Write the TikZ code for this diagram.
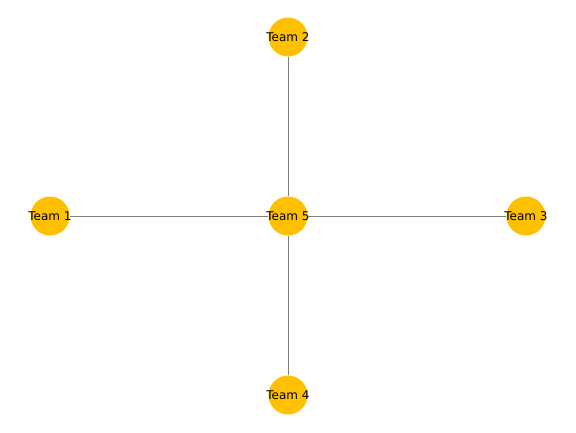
\documentclass[tikz,border=0pt]{standalone}
\usepackage{fontspec}
\setmainfont{DejaVu Sans}
\usetikzlibrary{positioning}
\definecolor{teamamber}{RGB}{255,192,0}
\tikzset{
    team/.style={circle,fill=teamamber,minimum size=39bp,inner sep=-8bp,
        font=\fontsize{12bp}{14bp}\selectfont},
    link/.style={draw=gray,line width=0.8bp}
}
\begin{document}
\begin{tikzpicture}[x=1bp,y=1bp]
    % Frame
    \useasboundingbox (0,0) rectangle (576,432);
    % Teams
    \node at (288,216) [team] (t5) {Team 5};
    \node at (50,216) [team] (t1) {Team 1};
    \node at (288,395) [team] (t2) {Team 2};
    \node at (526,216) [team] (t3) {Team 3};
    \node at (288,37) [team] (t4) {Team 4};
    % Links
    \draw [link] (t1) -- (t5);
    \draw [link] (t2) -- (t5);
    \draw [link] (t3) -- (t5);
    \draw [link] (t4) -- (t5);
\end{tikzpicture}
\end{document}
